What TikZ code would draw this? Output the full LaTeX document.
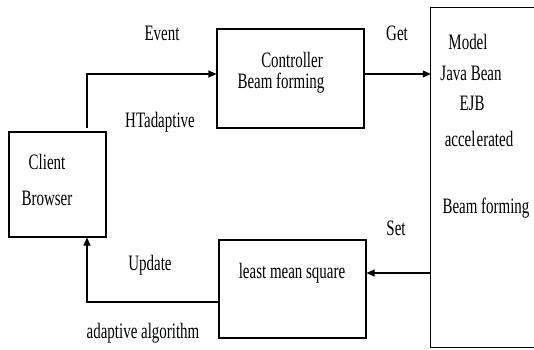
\documentclass[tikz,border=0pt]{standalone}
\usepackage{fontspec}
\setmainfont{Liberation Serif}
\usetikzlibrary{arrows.meta}
\newcommand{\sq}[1]{\scalebox{0.68}[1]{#1}}
\tikzset{
  box/.style={draw, line width=1.1pt, minimum width=#1, inner sep=0pt},
  openbox/.style={minimum width=#1, inner sep=0pt},
  lbl/.style={inner sep=0pt, font=\fontsize{22}{24}\selectfont},
  line/.style={line width=1.1pt},
  conn/.style={line width=1.1pt, -{Triangle[length=8pt,width=7pt]}},
}
\begin{document}
\begin{tikzpicture}[x=1pt,y=-1pt]
\useasboundingbox (0,0) rectangle (534,349);
% boxes
\node[box=97pt, minimum height=105pt] (client) at (57.5,184.5) {};
\node[box=147pt, minimum height=99pt] (ctrl) at (290.5,78.5) {};
\node[openbox=120pt, minimum height=339pt] (model) at (491,177.5) {};
\draw[line] (model.north east) -- (model.north west) -- (model.south west) -- (model.south east);
\node[box=147pt, minimum height=98pt] (lms) at (292.5,289) {};
% texts
\node[lbl] (tclient) at (47,162) {\sq{Client}};
\node[lbl] (tbrowser) at (47,198) {\sq{Browser}};
\node[lbl] (tctrl) at (292,60) {\sq{Controller}};
\node[lbl] (tbf1) at (281,83) {\sq{Beam forming}};
\node[lbl] (tmodel) at (468,42) {\sq{Model}};
\node[lbl] (tjava) at (471,73) {\sq{Java Bean}};
\node[lbl] (tejb) at (472,103) {\sq{EJB}};
\node[lbl] (tacc) at (479,139) {\sq{accel\hspace{0.08em}erated}};
\node[lbl] (tbf2) at (486,208) {\sq{Beam forming}};
\node[lbl] (tlms) at (292,273) {\sq{least mean square}};
\node[lbl] (tevent) at (162,33) {\sq{Event}};
\node[lbl] (tht) at (160,122) {\sq{HTadaptive}};
\node[lbl] (tget) at (397,33) {\sq{Get}};
\node[lbl] (tset) at (396,228) {\sq{Set}};
\node[lbl] (tupd) at (150,265) {\sq{Update}};
\node[lbl] (talg) at (143,333) {\sq{adaptive algorithm}};
% connectors
\coordinate (e1) at (87,128);
\draw[conn] (e1) |- ([yshift=4.5pt]ctrl.west);
\draw[conn] ([yshift=4.5pt]ctrl.east) -- ([yshift=4.5pt]ctrl.east -| model.west);
\draw[conn] ([yshift=16pt]lms.east -| model.west) -- ([yshift=16pt]lms.east);
\draw[conn] ([yshift=-13pt]lms.west) -| ([xshift=29.5pt]client.south);
\end{tikzpicture}
\end{document}
